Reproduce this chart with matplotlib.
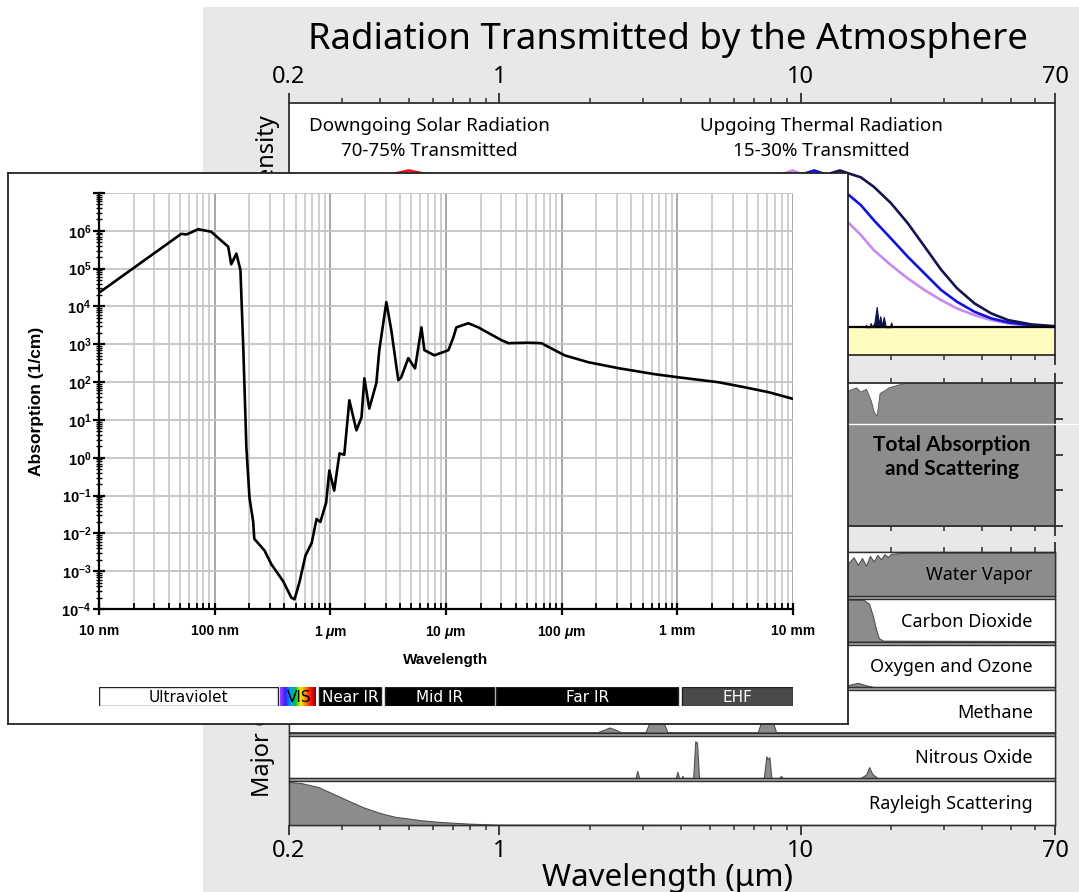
import numpy as np
import matplotlib
matplotlib.use('Agg')
import matplotlib.pyplot as plt
from matplotlib.patches import Rectangle
from matplotlib.lines import Line2D
from matplotlib.colors import LinearSegmentedColormap
from matplotlib.ticker import FixedLocator, FixedFormatter, NullFormatter, LogLocator

plt.rcParams['mathtext.fontset'] = 'custom'
plt.rcParams['mathtext.rm'] = 'Liberation Sans:bold'
plt.rcParams['mathtext.it'] = 'Liberation Sans:bold:italic'
plt.rcParams['mathtext.bf'] = 'Liberation Sans:bold'
plt.rcParams['mathtext.default'] = 'rm'

W, H = 1079, 892
PLAIN = ['Noto Sans', 'DejaVu Sans']
BOLD = ['Lato', 'DejaVu Sans']
ARIAL = ['Liberation Sans', 'DejaVu Sans']

# ---------------- inset: absorption of water ----------------
# wavelength (um) and absorption coefficient (1/cm)
water_wl = [0.01, 0.0514, 0.057, 0.072, 0.093, 0.131, 0.139, 0.154, 0.167, 0.177,
            0.188, 0.2, 0.215, 0.22, 0.27, 0.31, 0.39, 0.46, 0.49, 0.54,
            0.61, 0.69, 0.76, 0.82, 0.92, 0.98, 1.08, 1.2, 1.32, 1.46,
            1.68, 1.86, 1.97, 2.17, 2.5, 2.65, 3.05, 3.37, 3.87, 4.1,
            4.72, 5.4, 6.13, 6.5, 7.93, 10.5, 11.6, 12.3, 15.6, 19.0,
            30.1, 34.6, 51.5, 66.7, 106, 170, 310, 636, 1017, 2270,
            3820, 6160, 10000]
water_abs = [2.3e4, 8.3e5, 8.0e5, 1.1e6, 9.5e5, 3.8e5, 1.3e5, 2.5e5, 9.2e4, 7.0e2,
             1.9, 0.087, 0.021, 0.0072, 0.0035, 0.0015, 5.5e-4, 2.0e-4, 1.8e-4, 5.0e-4,
             2.6e-3, 5.6e-3, 0.024, 0.020, 0.065, 0.46, 0.135, 1.3, 1.2, 33,
             5.3, 11.7, 126, 20, 94, 700, 1.3e4, 2.3e3, 112, 134,
             430, 230, 2.8e3, 700, 510, 700, 1.55e3, 2.8e3, 3.6e3, 2.8e3,
             1.29e3, 1.07e3, 1.1e3, 1.07e3, 510, 335, 233, 162, 134, 99,
             73, 54, 36]

inset_xticks = [0.01, 0.1, 1, 10, 100, 1000, 10000]
inset_xlabels = ['10 nm', '100 nm', '1 $\\mathit{\\mu}$m', '10 $\\mathit{\\mu}$m',
                 '100 $\\mathit{\\mu}$m', '1 mm', '10 mm']
inset_yticks = [1e-4, 1e-3, 1e-2, 1e-1, 1e0, 1e1, 1e2, 1e3, 1e4, 1e5, 1e6, 1e7]
inset_ylabels = ['$10^{-4}$', '$10^{-3}$', '$10^{-2}$', '$10^{-1}$', '$10^{0}$', '$10^{1}$',
                 '$10^{2}$', '$10^{3}$', '$10^{4}$', '$10^{5}$', '$10^{6}$', '']

bar_names = ['Ultraviolet', 'VIS', 'Near IR', 'Mid IR', 'Far IR', 'EHF']
bar_lo = [0.01, 0.377, 0.80, 2.99, 27.3, 1100]
bar_hi = [0.355, 0.757, 2.76, 26.2, 1016, 10000]
bar_face = ['white', None, 'black', 'black', 'black', '#4a4a4a']
bar_text = ['black', 'black', 'white', 'white', 'white', 'white']

# ---------------- background: radiation transmitted ----------------
solar_wl = [0.25, 0.3, 0.4, 0.45, 0.5, 0.56, 0.65, 0.8, 1.0, 2.0, 4.0]
solar_i = [0.2, 0.5, 0.9, 0.99, 1.01, 0.99, 0.95, 0.8, 0.6, 0.15, 0.02]

hot_wl = [4.0, 6.0, 8.0, 8.8, 9.4, 10.0, 14.5, 15.85, 17.5, 19.95, 22.7, 25.8, 29.3,
          33.1, 37.8, 43.0, 48.9, 58.5, 69.9]
hot_i = [0.2, 0.6, 0.95, 0.99, 1.01, 0.99, 0.669, 0.594, 0.497, 0.40, 0.314, 0.239,
         0.174, 0.12, 0.077, 0.045, 0.024, 0.006, 0.0]
mid_wl = [6.0, 8.0, 10.3, 11.1, 11.9, 14.5, 15.85, 17.5, 19.95, 22.7, 25.8, 29.3,
          33.1, 37.8, 43.0, 48.9, 58.5, 69.9]
mid_i = [0.4, 0.8, 0.99, 1.01, 0.99, 0.85, 0.787, 0.69, 0.572, 0.454, 0.346, 0.239,
         0.163, 0.099, 0.056, 0.030, 0.011, 0.002]
cold_wl = [6.0, 9.0, 12.5, 13.5, 14.5, 15.85, 17.5, 19.95, 22.7, 25.8, 29.3,
           33.1, 37.8, 43.0, 48.9, 58.5, 69.9]
cold_i = [0.3, 0.75, 0.99, 1.01, 0.99, 0.966, 0.905, 0.80, 0.67, 0.52, 0.37,
          0.25, 0.153, 0.088, 0.045, 0.017, 0.006]

thermal_out_wl = [16.3, 16.5, 16.7, 16.9, 17.1, 17.3, 17.6, 17.9, 18.2, 18.4, 18.6,
                  18.9, 19.2, 19.8, 20.0, 20.2]
thermal_out_i = [0, 0.013, 0, 0, 0.026, 0, 0.03, 0.13, 0.02, 0.07, 0.01,
                 0.065, 0, 0, 0.03, 0]

total_wl = [13.0, 14.5, 15.3, 15.8, 16.5, 17.1, 17.5, 17.9, 18.3, 19.0, 19.6, 20.4,
            21.2, 22.4, 70]
total_abs = [0.93, 0.95, 0.97, 0.94, 0.96, 0.88, 0.80, 0.77, 0.93, 0.95, 0.97, 0.98,
             0.99, 1.0, 1.0]

h2o_wl = [13.0, 14.5, 15.0, 15.5, 16.0, 16.5, 17.0, 17.5, 18.0, 18.5, 19.0, 19.5,
          20.0, 21.0, 22.0, 70]
h2o_abs = [0.8, 0.78, 0.9, 0.72, 0.88, 0.7, 0.93, 0.8, 0.95, 0.85, 0.97, 0.9,
           0.98, 0.99, 1.0, 1.0]
co2_wl = [13.0, 16.2, 16.9, 17.4, 17.8, 18.2, 18.8, 70]
co2_abs = [1.0, 1.0, 0.9, 0.6, 0.3, 0.08, 0.02, 0.01]
o3_wl = [13.0, 14.5, 15.5, 16.5, 17.5, 70]
o3_abs = [0.0, 0.05, 0.1, 0.04, 0.0, 0.0]
ch4_wl = [0.2, 2.1, 2.25, 2.32, 2.4, 2.55, 3.05, 3.18, 3.3, 3.45, 3.62,
          7.2, 7.4, 7.65, 7.8, 8.05, 8.3, 70]
ch4_abs = [0, 0, 0.08, 0.12, 0.08, 0, 0, 0.3, 0.55, 0.35, 0,
           0, 0.25, 0.6, 0.5, 0.3, 0, 0]
n2o_wl = [0.2, 2.83, 2.87, 2.91, 3.85, 3.9, 3.95, 4.02, 4.05, 4.08, 4.4, 4.47,
          4.53, 4.6, 7.55, 7.7, 7.78, 7.88, 8.0, 8.5, 8.6, 8.7, 15.8, 16.5,
          16.9, 17.3, 18.0, 70]
n2o_abs = [0, 0, 0.17, 0, 0, 0.15, 0, 0, 0.05, 0, 0, 0.88,
           0.85, 0, 0, 0.52, 0.45, 0.5, 0, 0, 0.05, 0, 0, 0.08,
           0.26, 0.1, 0, 0]
ray_wl = [0.2, 0.22, 0.25, 0.271, 0.3, 0.35, 0.4, 0.45, 0.55, 0.636, 0.8, 0.98, 70]
ray_abs = [1.0, 0.97, 0.88, 0.77, 0.63, 0.42, 0.28, 0.19, 0.11, 0.07, 0.03, 0.01, 0.0]

components = ['Water Vapor', 'Carbon Dioxide', 'Oxygen and Ozone', 'Methane',
              'Nitrous Oxide', 'Rayleigh Scattering']
comp_wl = [h2o_wl, co2_wl, o3_wl, ch4_wl, n2o_wl, ray_wl]
comp_abs = [h2o_abs, co2_abs, o3_abs, ch4_abs, n2o_abs, ray_abs]

bg_ticks = [0.2, 1, 10, 70]
bg_ticklabels = ['0.2', '1', '10', '70']
bg_minor = [0.3, 0.4, 0.5, 0.6, 0.7, 0.8, 0.9, 2, 3, 4, 5, 6, 7, 8, 9,
            20, 30, 40, 50, 60]


def rect(x0, y0, x1, y1):
    return [x0 / W, 1 - y1 / H, (x1 - x0) / W, (y1 - y0) / H]


def fx(x):
    return x / W


def fy(y):
    return 1 - y / H


fig = plt.figure(figsize=(W / 100, H / 100), dpi=100)
fig.patches.append(Rectangle((fx(203), 0), 1 - fx(203), fy(7), transform=fig.transFigure,
                             facecolor='#e8e8e8', edgecolor='none', zorder=-5))

FRAME = '#303030'
GRAYFILL = '#8c8c8c'


def bg_axes(y0, y1):
    ax = fig.add_axes(rect(289, y0, 1055, y1), zorder=1)
    ax.set_xscale('log')
    ax.set_xlim(0.2, 70)
    ax.xaxis.set_major_locator(FixedLocator(bg_ticks))
    ax.xaxis.set_major_formatter(FixedFormatter(bg_ticklabels))
    ax.xaxis.set_minor_locator(FixedLocator(bg_minor))
    ax.xaxis.set_minor_formatter(NullFormatter())
    ax.tick_params(axis='x', which='both', top=True, bottom=True, direction='out',
                   labelbottom=False, labeltop=False, color=FRAME)
    ax.tick_params(axis='x', which='major', length=7, width=1.3)
    ax.tick_params(axis='x', which='minor', length=3.5, width=1.1)
    ax.set_yticks([])
    for s in ax.spines.values():
        s.set_color(FRAME)
        s.set_linewidth(1.3)
    return ax


# spectral intensity panel
ax1 = bg_axes(103, 355)
ax1.set_ylim(-0.18, 1.445)
ax1.axhspan(-0.18, 0, color='#fffcc0', zorder=1)
ax1.plot(solar_wl, solar_i, color='#e8141c', lw=1.9, zorder=3)
ax1.plot(hot_wl, hot_i, color='#c88af0', lw=1.9, zorder=3)
ax1.plot(mid_wl, mid_i, color='#1010e0', lw=1.9, zorder=3)
ax1.plot(cold_wl, cold_i, color='#141450', lw=1.9, zorder=3)
ax1.fill_between(thermal_out_wl, 0, thermal_out_i, color='#10104a', lw=0.8, zorder=3)
ax1.axhline(0, color='black', lw=1.6, zorder=4)
ax1.tick_params(axis='x', which='major', labeltop=True, labelsize=17, pad=3)
for lbl in ax1.get_xticklabels():
    lbl.set_fontfamily(PLAIN)

fig.text(fx(429), fy(126), 'Downgoing Solar Radiation', ha='center', va='center',
         fontsize=13.5, family=PLAIN)
fig.text(fx(429), fy(151), '70-75% Transmitted', ha='center', va='center',
         fontsize=13.5, family=PLAIN)
fig.text(fx(821), fy(126), 'Upgoing Thermal Radiation', ha='center', va='center',
         fontsize=13.5, family=PLAIN)
fig.text(fx(821), fy(151), '15-30% Transmitted', ha='center', va='center',
         fontsize=13.5, family=PLAIN)

# total absorption panel
ax2 = bg_axes(383, 526)
ax2.set_ylim(0, 1)
ax2.fill_between(total_wl, 0, total_abs, color=GRAYFILL, lw=0.6, edgecolor='#555555')
ax2.yaxis.tick_right()
ax2.set_yticks([0, 0.25, 0.5, 0.75, 1.0])
ax2.tick_params(axis='y', direction='out', length=6, width=1.3, color=FRAME,
                labelright=False)
fig.text(fx(952), fy(457), 'Total Absorption\nand Scattering', ha='center', va='center',
         fontsize=15, fontweight='bold', family=BOLD, linespacing=1.2)

# components block
fig.patches.append(Rectangle((fx(289), fy(825)), fx(1055) - fx(289), fy(552) - fy(825),
                             transform=fig.transFigure, facecolor='#a4a4a4',
                             edgecolor=FRAME, lw=1.0, zorder=0.5))
row_h = (825 - 552) / 6
for i, name in enumerate(components):
    top = 552 + i * row_h + (0 if i == 0 else 1.5)
    bot = 552 + (i + 1) * row_h - (0 if i == 5 else 1.5)
    ax = bg_axes(top, bot)
    ax.set_ylim(0, 1.02)
    ax.fill_between(comp_wl[i], 0, comp_abs[i], color=GRAYFILL, lw=0.8,
                    edgecolor='#505050')
    for s in ax.spines.values():
        s.set_linewidth(1.0)
    ax.tick_params(axis='x', which='both', top=(i == 0), bottom=(i == 5))
    ax.text(0.971, 0.47, name, transform=ax.transAxes, ha='right', va='center',
            fontsize=13, family=PLAIN)
    if i == 5:
        ax.tick_params(axis='x', which='major', labelbottom=True, labelsize=17, pad=3)
        for lbl in ax.get_xticklabels():
            lbl.set_fontfamily(PLAIN)

fig.text(fx(668), fy(40), 'Radiation Transmitted by the Atmosphere', ha='center',
         va='center', fontsize=26.3, family=PLAIN)
fig.text(fx(668), fy(878), 'Wavelength (\u03bcm)', ha='center', va='center',
         fontsize=22.5, family=PLAIN)
fig.text(fx(268), fy(115), 'Spectral Intensity', rotation=90, ha='center', va='top',
         fontsize=17, family=PLAIN)
fig.text(fx(263), fy(797), 'Major Components', rotation=90, ha='center', va='bottom',
         fontsize=17, family=PLAIN)
fig.lines.append(Line2D([fx(848), 1], [fy(423.5), fy(423.5)], transform=fig.transFigure,
                        color='white', lw=1.0, zorder=5))

# ---------------- inset ----------------
frame = fig.add_axes(rect(8, 173, 848, 724), zorder=10)
frame.set_xticks([])
frame.set_yticks([])
frame.set_facecolor('white')
for s in frame.spines.values():
    s.set_color('#222222')
    s.set_linewidth(1.3)

ax = fig.add_axes(rect(99, 193, 793, 609), zorder=11)
ax.patch.set_alpha(0)
ax.set_xscale('log')
ax.set_yscale('log')
ax.set_xlim(0.01, 10000)
ax.set_ylim(1e-4, 1e7)
ax.xaxis.set_major_locator(FixedLocator(inset_xticks))
ax.xaxis.set_major_formatter(FixedFormatter(inset_xlabels))
ax.xaxis.set_minor_locator(LogLocator(base=10, subs=np.arange(2, 10), numticks=100))
ax.xaxis.set_minor_formatter(NullFormatter())
ax.yaxis.set_major_locator(FixedLocator(inset_yticks))
ax.yaxis.set_major_formatter(FixedFormatter(inset_ylabels))
ax.yaxis.set_minor_locator(LogLocator(base=10, subs=np.arange(2, 10), numticks=100))
ax.yaxis.set_minor_formatter(NullFormatter())
ax.grid(True, which='major', axis='x', color='#a0a0a0', lw=1.3)
ax.grid(True, which='minor', axis='x', color='#cbcbcb', lw=1.3)
ax.grid(True, which='major', axis='y', color='#c4c4c4', lw=1.3)
ax.set_axisbelow(True)
ax.spines['top'].set_visible(False)
ax.spines['right'].set_visible(False)
ax.spines['left'].set_linewidth(1.6)
ax.spines['bottom'].set_linewidth(1.6)
ax.tick_params(axis='x', which='major', direction='inout', length=9, width=1.6, pad=6,
               labelsize=10)
ax.tick_params(axis='x', which='minor', direction='in', length=4, width=1.3)
ax.tick_params(axis='y', which='major', direction='inout', length=9, width=1.6, pad=1,
               labelsize=10.5)
ax.tick_params(axis='y', which='minor', direction='inout', length=5, width=1.0)
for lbl in ax.get_xticklabels() + ax.get_yticklabels():
    lbl.set_fontfamily(ARIAL)
    lbl.set_fontweight('bold')
ax.plot(water_wl, water_abs, color='black', lw=1.9, zorder=3)

fig.text(fx(37), fy(401), 'Absorption (1/cm)', rotation=90, ha='center', va='center',
         fontsize=12.5, fontweight='bold', family=ARIAL, zorder=12)
fig.text(fx(446), fy(660), 'Wavelength', ha='center', va='center',
         fontsize=11, fontweight='bold', family=ARIAL, zorder=12)

# spectrum band bar
bar = fig.add_axes(rect(99, 687, 793, 706), zorder=11)
bar.set_xscale('log')
bar.set_xlim(0.01, 10000)
bar.set_ylim(0, 1)
bar.axis('off')
for name, lo, hi, face, tc in zip(bar_names, bar_lo, bar_hi, bar_face, bar_text):
    if face is not None:
        bar.add_patch(Rectangle((lo, 0), hi - lo, 1, facecolor=face, edgecolor='#222222',
                                lw=1.0))
    bar.text(np.sqrt(lo * hi), 0.45, name, ha='center', va='center', color=tc,
             fontsize=11, family=['DejaVu Sans'], zorder=5)

vis_cmap = LinearSegmentedColormap.from_list(
    'vis', ['#a040ff', '#3020ff', '#00a0ff', '#00c040', '#f0f000', '#ff8000', '#ff1000',
            '#900000'])
vis = fig.add_axes(rect(280, 687, 315, 706), zorder=10.5)
vis.imshow(np.linspace(0, 1, 64)[None, :], cmap=vis_cmap, aspect='auto')
vis.axis('off')

fig.savefig('out.png', dpi=100)
